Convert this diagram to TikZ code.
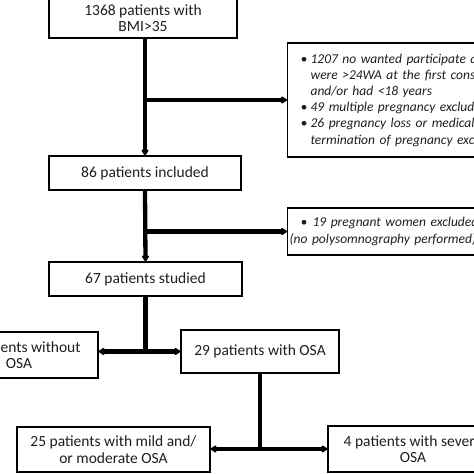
\documentclass[tikz,border=0pt]{standalone}
\usepackage{fontspec}
\setmainfont{Carlito}
\usetikzlibrary{arrows.meta,shadows}
\newcommand{\mainsz}{\fontsize{15.5}{16.5}\selectfont}
\newcommand{\itsz}{\fontsize{13.5}{16.2}\selectfont\itshape}
\tikzset{
  box/.style={draw=black, line width=1.2pt, fill=white, text=black!88,
    drop shadow={shadow xshift=1.4pt, shadow yshift=-1.4pt, fill=black, opacity=1},
    inner sep=0pt, align=center, font=\mainsz},
  conn/.style={line width=4.3pt, draw=black},
  tip/.style={-{Triangle[round,length=6.5pt,width=8pt,line width=2pt]}}
}
\begin{document}
\begin{tikzpicture}[x=1pt,y=-1pt]
\useasboundingbox (0,0) rectangle (474,474);
\fill[white] (0,0) rectangle (474,474);
\clip (0,0) rectangle (474,474);
\node[box, minimum width=188pt, minimum height=40pt] (b1) at (143,18) {1368 patients with\\BMI>35};
\node[box, anchor=west, minimum height=114pt, text width=300pt, inner xsep=13pt, align=left, font=\itsz] (b2) at (287,100)
 {\makebox[10pt][l]{•}1207 no wanted participate and/or\\
  \hspace*{10pt}were >24WA at the first consultation\\
  \hspace*{10pt}and/or had <18 years\\
  \makebox[10pt][l]{•}49 multiple pregnancy excluded\\
  \makebox[10pt][l]{•}26 pregnancy loss or medical\\
  \hspace*{10pt}termination of pregnancy excluded};
\node[box, minimum width=192pt, minimum height=34pt] (b3) at (145,173) {86 patients included};
\node[box, anchor=west, minimum height=47pt, text width=300pt, inner xsep=2pt, align=left, font=\itsz] (b5) at (287,231.5)
 {\hspace*{11pt}\makebox[12pt][l]{•}19 pregnant women excluded\\(no polysomnography performed)};
\node[box, minimum width=193pt, minimum height=34pt] (b4) at (145.5,279) {67 patients studied};
\node[box, minimum width=158pt, minimum height=46pt] (b6) at (19,355) {38 patients without\\OSA};
\node[box, minimum width=158pt, minimum height=43pt] (b7) at (260,351.5) {29 patients with OSA};
\node[box, minimum width=193pt, minimum height=45pt] (b8) at (113.5,449.5) {25 patients with mild and/\\or moderate OSA};
\node[box, minimum width=170pt, minimum height=46pt] (b9) at (413,449) {4 patients with severe\\OSA};
\coordinate (j1) at (b3.north |- b2.west);
\coordinate (j2) at (b4.north |- b5.west);
\coordinate (j3) at (b4.south |- b7.west);
\coordinate (j4) at (b7.south |- b9.west);
\draw[conn,tip] (b3.north |- b1.south) -- (b3.north);
\draw[conn,tip] (j1) -- (b2.west);
\draw[conn,tip] (b3.south) -- (b4.north);
\draw[conn,tip] (j2) -- (b5.west);
\draw[conn] (b4.south) -- (j3);
\draw[conn,tip] (j3) -- (j3 -| b6.east);
\draw[conn,tip] (j3) -- (b7.west);
\draw[conn] (b7.south) -- (j4);
\draw[conn,tip] (j4) -- (j4 -| b8.east);
\draw[conn,tip] (j4) -- (b9.west);
\end{tikzpicture}
\end{document}
